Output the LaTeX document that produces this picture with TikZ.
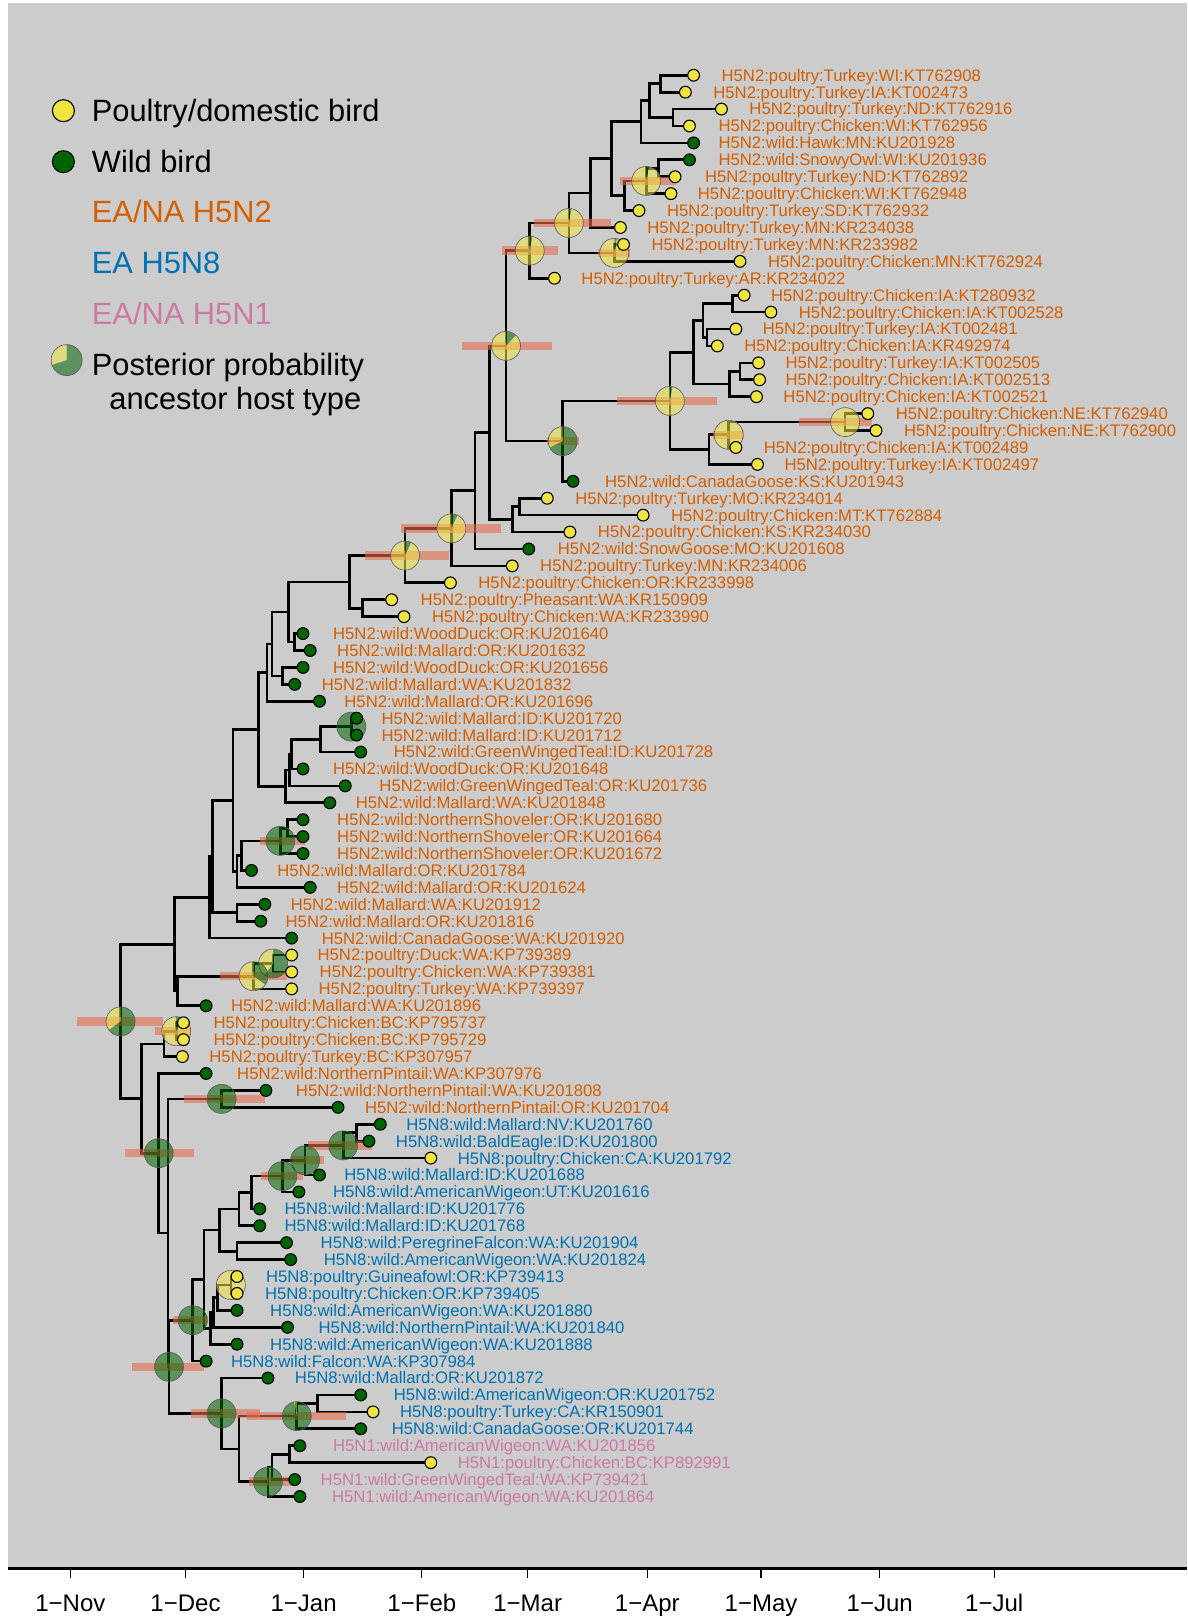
\documentclass[tikz,border=0pt]{standalone}
\usepackage{fontspec}
\setmainfont{Liberation Sans}
\usetikzlibrary{calc}

\definecolor{panel}{HTML}{CCCCCC}
\definecolor{poultry}{RGB}{240,228,66}
\definecolor{wild}{RGB}{0,100,0}
\definecolor{hfivetwo}{HTML}{D55E00}
\definecolor{hfiveeight}{HTML}{0072B2}
\definecolor{hfiveone}{HTML}{CC79A7}
\definecolor{hpd}{RGB}{230,110,80}

\newcommand{\clade}[4]{%
  \coordinate (#1m) at ($(#3)!.5!(#4)$);
  \coordinate (#1) at (#2,0 |- #1m);
  \draw[branch] (#3) -| (#1) |- (#4);}
\newcommand{\hpdbar}[3]{\draw[hpdline] (#2,0 |- #1) -- (#3,0 |- #1);}
\newcommand{\hostpie}[3][14.5pt]{%
  \fill[wild, fill opacity=.55] (#2) -- ++(90:#1) arc[start angle=90, end angle={90-360*#3}, radius=#1] -- cycle;
  \fill[poultry, fill opacity=.55] (#2) -- ++({90-360*#3}:#1) arc[start angle={90-360*#3}, end angle=-270, radius=#1] -- cycle;
  \draw[pieline] (#2) circle[radius=#1];}

\def\tiplist{%
1/673/700/poultry/hfivetwo/H5N2:poultry:Turkey:WI:KT762908,
2/665/692/poultry/hfivetwo/H5N2:poultry:Turkey:IA:KT002473,
3/700/727/poultry/hfivetwo/H5N2:poultry:Turkey:ND:KT762916,
4/669/697/poultry/hfivetwo/H5N2:poultry:Chicken:WI:KT762956,
5/673/697/wild/hfivetwo/H5N2:wild:Hawk:MN:KU201928,
6/669/697/wild/hfivetwo/H5N2:wild:SnowyOwl:WI:KU201936,
7/655/684/poultry/hfivetwo/H5N2:poultry:Turkey:ND:KT762892,
8/651/677/poultry/hfivetwo/H5N2:poultry:Chicken:WI:KT762948,
9/620/647/poultry/hfivetwo/H5N2:poultry:Turkey:SD:KT762932,
10/602/628/poultry/hfivetwo/H5N2:poultry:Turkey:MN:KR234038,
11/605/632/poultry/hfivetwo/H5N2:poultry:Turkey:MN:KR233982,
12/718/745/poultry/hfivetwo/H5N2:poultry:Chicken:MN:KT762924,
13/538/564/poultry/hfivetwo/H5N2:poultry:Turkey:AR:KR234022,
14/722/748/poultry/hfivetwo/H5N2:poultry:Chicken:IA:KT280932,
15/748/775/poultry/hfivetwo/H5N2:poultry:Chicken:IA:KT002528,
16/714/740/poultry/hfivetwo/H5N2:poultry:Turkey:IA:KT002481,
17/696/722/poultry/hfivetwo/H5N2:poultry:Chicken:IA:KR492974,
18/736/762/poultry/hfivetwo/H5N2:poultry:Turkey:IA:KT002505,
19/737/762/poultry/hfivetwo/H5N2:poultry:Chicken:IA:KT002513,
20/734/760/poultry/hfivetwo/H5N2:poultry:Chicken:IA:KT002521,
21/842/869/poultry/hfivetwo/H5N2:poultry:Chicken:NE:KT762940,
22/850/877/poultry/hfivetwo/H5N2:poultry:Chicken:NE:KT762900,
23/714/741/poultry/hfivetwo/H5N2:poultry:Chicken:IA:KT002489,
24/735/761/poultry/hfivetwo/H5N2:poultry:Turkey:IA:KT002497,
25/556/587/wild/hfivetwo/H5N2:wild:CanadaGoose:KS:KU201943,
26/531/558/poultry/hfivetwo/H5N2:poultry:Turkey:MO:KR234014,
27/624/651/poultry/hfivetwo/H5N2:poultry:Chicken:MT:KT762884,
28/553/580/poultry/hfivetwo/H5N2:poultry:Chicken:KS:KR234030,
29/513/541/wild/hfivetwo/H5N2:wild:SnowGoose:MO:KU201608,
30/497/524/poultry/hfivetwo/H5N2:poultry:Turkey:MN:KR234006,
31/437/464/poultry/hfivetwo/H5N2:poultry:Chicken:OR:KR233998,
32/380/408/poultry/hfivetwo/H5N2:poultry:Pheasant:WA:KR150909,
33/392/419/poultry/hfivetwo/H5N2:poultry:Chicken:WA:KR233990,
34/294/323/wild/hfivetwo/H5N2:wild:WoodDuck:OR:KU201640,
35/301/327/wild/hfivetwo/H5N2:wild:Mallard:OR:KU201632,
36/294/323/wild/hfivetwo/H5N2:wild:WoodDuck:OR:KU201656,
37/286/312/wild/hfivetwo/H5N2:wild:Mallard:WA:KU201832,
38/310/334/wild/hfivetwo/H5N2:wild:Mallard:OR:KU201696,
39/346/370/wild/hfivetwo/H5N2:wild:Mallard:ID:KU201720,
40/346/370/wild/hfivetwo/H5N2:wild:Mallard:ID:KU201712,
41/350/382/wild/hfivetwo/H5N2:wild:GreenWingedTeal:ID:KU201728,
42/294/323/wild/hfivetwo/H5N2:wild:WoodDuck:OR:KU201648,
43/335/368/wild/hfivetwo/H5N2:wild:GreenWingedTeal:OR:KU201736,
44/320/345/wild/hfivetwo/H5N2:wild:Mallard:WA:KU201848,
45/294/327/wild/hfivetwo/H5N2:wild:NorthernShoveler:OR:KU201680,
46/294/327/wild/hfivetwo/H5N2:wild:NorthernShoveler:OR:KU201664,
47/294/327/wild/hfivetwo/H5N2:wild:NorthernShoveler:OR:KU201672,
48/244/269/wild/hfivetwo/H5N2:wild:Mallard:OR:KU201784,
49/301/327/wild/hfivetwo/H5N2:wild:Mallard:OR:KU201624,
50/257/282/wild/hfivetwo/H5N2:wild:Mallard:WA:KU201912,
51/253/277/wild/hfivetwo/H5N2:wild:Mallard:OR:KU201816,
52/283/312/wild/hfivetwo/H5N2:wild:CanadaGoose:WA:KU201920,
53/283/308/poultry/hfivetwo/H5N2:poultry:Duck:WA:KP739389,
54/283/310/poultry/hfivetwo/H5N2:poultry:Chicken:WA:KP739381,
55/283/309/poultry/hfivetwo/H5N2:poultry:Turkey:WA:KP739397,
56/200/224/wild/hfivetwo/H5N2:wild:Mallard:WA:KU201896,
57/178/207/poultry/hfivetwo/H5N2:poultry:Chicken:BC:KP795737,
58/178/207/poultry/hfivetwo/H5N2:poultry:Chicken:BC:KP795729,
59/177/203/poultry/hfivetwo/H5N2:poultry:Turkey:BC:KP307957,
60/200/230/wild/hfivetwo/H5N2:wild:NorthernPintail:WA:KP307976,
61/258/287/wild/hfivetwo/H5N2:wild:NorthernPintail:WA:KU201808,
62/328/354/wild/hfivetwo/H5N2:wild:NorthernPintail:OR:KU201704,
63/369/394/wild/hfiveeight/H5N8:wild:Mallard:NV:KU201760,
64/358/384/wild/hfiveeight/H5N8:wild:BaldEagle:ID:KU201800,
65/418/444/poultry/hfiveeight/H5N8:poultry:Chicken:CA:KU201792,
66/310/334/wild/hfiveeight/H5N8:wild:Mallard:ID:KU201688,
67/290/323/wild/hfiveeight/H5N8:wild:AmericanWigeon:UT:KU201616,
68/252/276/wild/hfiveeight/H5N8:wild:Mallard:ID:KU201776,
69/252/276/wild/hfiveeight/H5N8:wild:Mallard:ID:KU201768,
70/278/311/wild/hfiveeight/H5N8:wild:PeregrineFalcon:WA:KU201904,
71/282/314/wild/hfiveeight/H5N8:wild:AmericanWigeon:WA:KU201824,
72/230/258/poultry/hfiveeight/H5N8:poultry:Guineafowl:OR:KP739413,
73/230/257/poultry/hfiveeight/H5N8:poultry:Chicken:OR:KP739405,
74/230/262/wild/hfiveeight/H5N8:wild:AmericanWigeon:WA:KU201880,
75/279/309/wild/hfiveeight/H5N8:wild:NorthernPintail:WA:KU201840,
76/230/262/wild/hfiveeight/H5N8:wild:AmericanWigeon:WA:KU201888,
77/200/224/wild/hfiveeight/H5N8:wild:Falcon:WA:KP307984,
78/260/286/wild/hfiveeight/H5N8:wild:Mallard:OR:KU201872,
79/350/382/wild/hfiveeight/H5N8:wild:AmericanWigeon:OR:KU201752,
80/362/388/poultry/hfiveeight/H5N8:poultry:Turkey:CA:KR150901,
81/350/380/wild/hfiveeight/H5N8:wild:CanadaGoose:OR:KU201744,
82/291/323/wild/hfiveone/H5N1:wild:AmericanWigeon:WA:KU201856,
83/418/444/poultry/hfiveone/H5N1:poultry:Chicken:BC:KP892991,
84/286/311/wild/hfiveone/H5N1:wild:GreenWingedTeal:WA:KP739421,
85/291/322/wild/hfiveone/H5N1:wild:AmericanWigeon:WA:KU201864}

\begin{document}
\begin{tikzpicture}[x=1.0304pt, y=-1.0304pt,
  branch/.style={line width=2.7pt},
  hpdline/.style={hpd, line width=8.5pt, opacity=.6},
  pieline/.style={draw=black!65, line width=.6pt},
  tipdot/.style={circle, draw=black, line width=1.1pt, minimum size=11.8pt, inner sep=0pt},
  tiplab/.style={anchor=base west, inner sep=0pt, yshift=-5.9pt, font=\fontsize{16.7}{18}\selectfont},
  keylab/.style={anchor=base west, inner sep=0pt, yshift=-10.9pt, font=\fontsize{30.8}{34}\selectfont},
  monthlab/.style={anchor=base, inner sep=0pt, yshift=-8.6pt, font=\fontsize{24}{28}\selectfont}]
\useasboundingbox (0,0) rectangle (1152,1568);
\fill[panel] (8,3) rectangle (1152,1522);

\node[tipdot, minimum size=22pt, fill=poultry] (keyp) at (61.5,107.4) {};
\node[keylab] (keyptext) at (89,107.4) {Poultry/domestic bird};
\node[tipdot, minimum size=22pt, fill=wild] (keyw) at (61.5,156.9) {};
\node[keylab] (keywtext) at (89,156.9) {Wild bird};
\node[keylab, text=hfivetwo] (keytwo) at (89,205.4) {EA/NA H5N2};
\node[keylab, text=hfiveeight] (keyeight) at (89,254.9) {EA H5N8};
\node[keylab, text=hfiveone] (keyone) at (89,304) {EA/NA H5N1};
\coordinate (keypie) at (64.7,349.4);
\hostpie[15.5pt]{keypie}{0.7}
\node[keylab] (keypietext) at (89,354.2) {Posterior probability};
\node[keylab] (keypietext2) at (106,386.6) {ancestor host type};

\foreach \rw/\tx/\lx/\hc/\gc/\lab in \tiplist {
  \coordinate (t\rw) at (\tx, {73+(\rw-1)*16.417});
}

\clade{n12}{641}{t1}{t2}
\clade{n34}{653}{t3}{t4}
\clade{n1to4}{630}{n12}{n34}
\clade{n1to5}{622}{n1to4}{t5}
\clade{n67}{639}{t6}{t7}
\clade{n678}{627}{n67}{t8}
\clade{n6to9}{606}{n678}{t9}
\clade{n1to9}{593}{n1to5}{n6to9}
\clade{n1to10}{573}{n1to9}{t10}
\clade{n11to12}{596}{t11}{t12}
\clade{n1to12}{552}{n1to10}{n11to12}
\clade{n1to13}{514}{n1to12}{t13}
\clade{n14to15}{711}{t14}{t15}
\clade{n16to17}{686}{t16}{t17}
\clade{n14to17}{682}{n14to15}{n16to17}
\clade{n18to19}{718}{t18}{t19}
\clade{n18to20}{708}{n18to19}{t20}
\clade{n14to20}{673}{n14to17}{n18to20}
\clade{n21to22}{820}{t21}{t22}
\clade{n21to23}{707}{n21to22}{t23}
\clade{n21to24}{688}{n21to23}{t24}
\clade{iowa}{650}{n14to20}{n21to24}
\clade{iowacg}{546}{iowa}{t25}
\clade{ntop}{491}{n1to13}{iowacg}
\clade{n26to27}{504}{t26}{t27}
\clade{n26to28}{497}{n26to27}{t28}
\clade{na}{475}{ntop}{n26to28}
\clade{nb}{461}{na}{t29}
\clade{nc}{438}{nb}{t30}
\clade{nd}{393}{nc}{t31}
\clade{n32to33}{352}{t32}{t33}
\clade{ne}{339}{nd}{n32to33}
\clade{n34to35}{286}{t34}{t35}
\clade{nf}{280}{ne}{n34to35}
\clade{n36to37}{274}{t36}{t37}
\clade{nh}{264}{nf}{n36to37}
\clade{ni}{259}{nh}{t38}
\clade{n39to40}{341}{t39}{t40}
\clade{n39to41}{311}{n39to40}{t41}
\clade{nj}{283}{n39to41}{t42}
\clade{nk}{281}{nj}{t43}
\clade{nl}{277}{nk}{t44}
\clade{nm}{251}{ni}{nl}
\clade{n45to46}{279}{t45}{t46}
\clade{n45to47}{272}{n45to46}{t47}
\clade{n45to48}{234}{n45to47}{t48}
\clade{n45to49}{230}{n45to48}{t49}
\clade{nn}{226}{nm}{n45to49}
\clade{n50to51}{230}{t50}{t51}
\clade{no}{206}{nn}{n50to51}
\clade{np}{203}{no}{t52}
\clade{n53to54}{265}{t53}{t54}
\clade{n53to55}{246}{n53to54}{t55}
\clade{n53to56}{172}{n53to55}{t56}
\clade{nq}{169}{np}{n53to56}
\clade{n57to58}{171}{t57}{t58}
\clade{bc}{159}{n57to58}{t59}
\clade{pintail}{215}{t61}{t62}
\clade{n63to64}{346}{t63}{t64}
\clade{n63to65}{333}{n63to64}{t65}
\clade{n63to66}{296}{n63to65}{t66}
\clade{n63to67}{274}{n63to66}{t67}
\clade{n63to68}{244}{n63to67}{t68}
\clade{n63to69}{232}{n63to68}{t69}
\clade{n70to71}{230}{t70}{t71}
\clade{n63to71}{213}{n63to69}{n70to71}
\clade{n72to73}{224}{t72}{t73}
\clade{n72to74}{211}{n72to73}{t74}
\clade{n72to75}{207}{n72to74}{t75}
\clade{n72to76}{204}{n72to75}{t76}
\clade{n63to76}{198}{n63to71}{n72to76}
\clade{n63to77}{187}{n63to76}{t77}
\clade{n79to80}{308}{t79}{t80}
\clade{n79to81}{288}{n79to80}{t81}
\clade{n82to83}{281}{t82}{t83}
\clade{n82to84}{264}{n82to83}{t84}
\clade{hfnone}{260}{n82to84}{t85}
\clade{nx}{232}{n79to81}{hfnone}
\clade{nw}{215}{t78}{nx}
\clade{nz}{164}{n63to77}{nw}
\clade{ny}{163}{pintail}{nz}
\clade{nt}{154}{t60}{ny}
\clade{ns}{137}{bc}{nt}
\clade{root}{117}{nq}{ns}

\hpdbar{n678}{602}{656}
\hpdbar{n1to12}{518}{593}
\hpdbar{n1to13}{487}{541}
\hpdbar{n11to12}{580}{611}
\hpdbar{ntop}{448}{536}
\hpdbar{iowa}{599}{696}
\hpdbar{iowacg}{531}{562}
\hpdbar{n21to23}{692}{722}
\hpdbar{n21to22}{775}{846}
\hpdbar{nc}{389}{486}
\hpdbar{nd}{354}{436}
\hpdbar{n45to47}{252}{296}
\hpdbar{n53to55}{213}{278}
\hpdbar{n57to58}{150}{185}
\hpdbar{root}{75}{158}
\hpdbar{pintail}{179}{257}
\hpdbar{nt}{121}{188}
\hpdbar{n63to65}{299}{361}
\hpdbar{n63to66}{283}{314}
\hpdbar{n63to67}{253}{294}
\hpdbar{n63to77}{168}{202}
\hpdbar{nz}{128}{198}
\hpdbar{nw}{185}{252}
\hpdbar{n79to81}{240}{336}
\hpdbar{hfnone}{242}{285}

\hostpie{n678}{0.03}
\hostpie{n1to12}{0.03}
\hostpie{n1to13}{0.03}
\hostpie{n11to12}{0.03}
\hostpie{ntop}{0.12}
\hostpie{iowa}{0.03}
\hostpie{iowacg}{0.68}
\hostpie{n21to23}{0}
\hostpie{n21to22}{0}
\hostpie{nc}{0.07}
\hostpie{nd}{0.07}
\hostpie{n39to40}{1}
\hostpie{n45to47}{1}
\hostpie{n53to54}{0.6}
\hostpie{n53to55}{0.35}
\hostpie{n57to58}{0.08}
\hostpie{root}{0.65}
\hostpie{pintail}{1}
\hostpie{nt}{1}
\hostpie{n63to65}{1}
\hostpie{n63to66}{1}
\hostpie{n63to67}{1}
\hostpie{n72to73}{0}
\hostpie{n63to77}{1}
\hostpie{nz}{1}
\hostpie{nw}{1}
\hostpie{n79to81}{0.97}
\hostpie{hfnone}{1}

\foreach \rw/\tx/\lx/\hc/\gc/\lab in \tiplist {
  \node[tipdot, fill=\hc] (d\rw) at (t\rw) {};
  \node[tiplab, text=\gc] (l\rw) at (\lx, {73+(\rw-1)*16.417}) {\lab};
}

\draw[line width=2.5pt] (8,1522) -- (1152,1522);
\foreach \mx/\mn in {68.3/Nov, 180/Dec, 294.6/Jan, 409.3/Feb, 512/Mar, 628.1/Apr, 738.4/May, 853.6/Jun, 964.7/Jul} {
  \draw[line width=1.3pt] (\mx,1522) -- (\mx,1531);
  \node[monthlab] (m\mn) at (\mx,1555) {1−\mn};
}
\end{tikzpicture}
\end{document}
